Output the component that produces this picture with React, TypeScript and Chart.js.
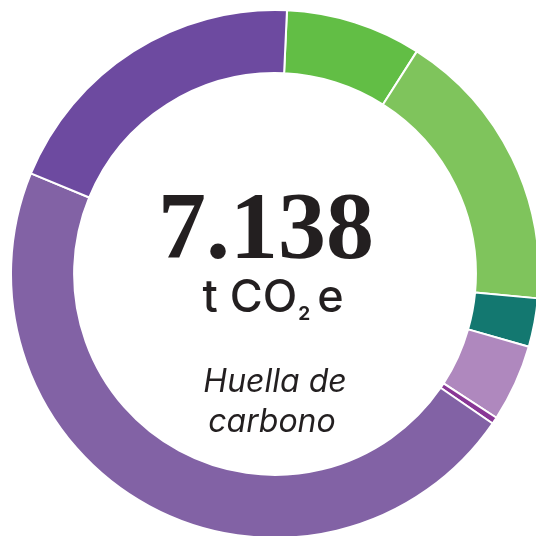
import React, { useEffect, useRef } from "react";
import { Chart, registerables } from "chart.js";

Chart.register(...registerables);

// Data (t CO2e per category)
const categories = [
  "Categoría 1",
  "Categoría 2",
  "Categoría 3",
  "Categoría 4",
  "Categoría 5",
  "Categoría 6",
  "Categoría 7",
];
const values = [0.593, 1.245, 0.212, 0.337, 0.03, 3.329, 1.392];
const colors = ["#62BE45", "#7FC45C", "#137870", "#AF88BE", "#893796", "#8262A5", "#6D4AA0"];
const totalLabel = "7.138";
const unitMain = "t CO";
const unitSub = "2";
const unitTail = "e";
const captionLines = ["Huella de", "carbono"];

const centerTextPlugin = {
  id: "centerText",
  afterDraw(chart: any) {
    const arc = chart.getDatasetMeta(0).data[0];
    if (!arc) return;
    const cx = arc.x;
    const cy = arc.y;
    const ctx = chart.ctx;
    ctx.save();
    ctx.fillStyle = "#231F20";
    ctx.textBaseline = "alphabetic";

    // Big total
    ctx.textAlign = "center";
    ctx.font = "bold 96px 'Liberation Serif', serif";
    ctx.fillText(totalLabel, cx - 9, cy - 16);

    // Unit line: t CO₂e
    const mainFont = "500 45px Inter, sans-serif";
    const subFont = "bold 19px Inter, sans-serif";
    ctx.font = mainFont;
    const wMain = ctx.measureText(unitMain).width;
    const wTail = ctx.measureText(unitTail).width;
    ctx.font = subFont;
    const wSub = ctx.measureText(unitSub).width;
    const gap1 = 1;
    const gap2 = 7;
    const total = wMain + gap1 + wSub + gap2 + wTail;
    let x = cx - 2 - total / 2;
    const base = cy + 38;
    ctx.textAlign = "left";
    ctx.font = mainFont;
    ctx.fillText(unitMain, x, base);
    x += wMain + gap1;
    ctx.font = subFont;
    ctx.fillText(unitSub, x, base + 8);
    x += wSub + gap2;
    ctx.font = mainFont;
    ctx.fillText(unitTail, x, base);

    // Caption
    ctx.textAlign = "center";
    ctx.font = "italic 32px Inter, sans-serif";
    ctx.fillText(captionLines[0], cx, cy + 118);
    ctx.fillText(captionLines[1], cx - 3, cy + 158);
    ctx.restore();
  },
};

export default function App() {
  const ref = useRef<HTMLCanvasElement | null>(null);

  useEffect(() => {
    if (!ref.current) return;
    const chart = new Chart(ref.current, {
      type: "doughnut",
      data: {
        labels: categories,
        datasets: [
          {
            data: values,
            backgroundColor: colors,
            borderColor: "#FFFFFF",
            borderWidth: 2,
          },
        ],
      },
      options: {
        responsive: false,
        animation: false,
        rotation: 2.6,
        cutout: "76.1%",
        events: [],
        layout: { padding: 0 },
        plugins: {
          legend: { display: false },
          tooltip: { enabled: false },
        },
      },
      plugins: [centerTextPlugin],
    });
    return () => chart.destroy();
  }, []);

  return (
    <div
      style={{
        position: "fixed",
        left: 0,
        top: 0,
        width: 536,
        height: 536,
        overflow: "hidden",
        background: "#FFFFFF",
      }}
    >
      <canvas
        ref={ref}
        width={530}
        height={530}
        style={{ position: "absolute", left: 10, top: 9, width: 530, height: 530 }}
      />
    </div>
  );
}
